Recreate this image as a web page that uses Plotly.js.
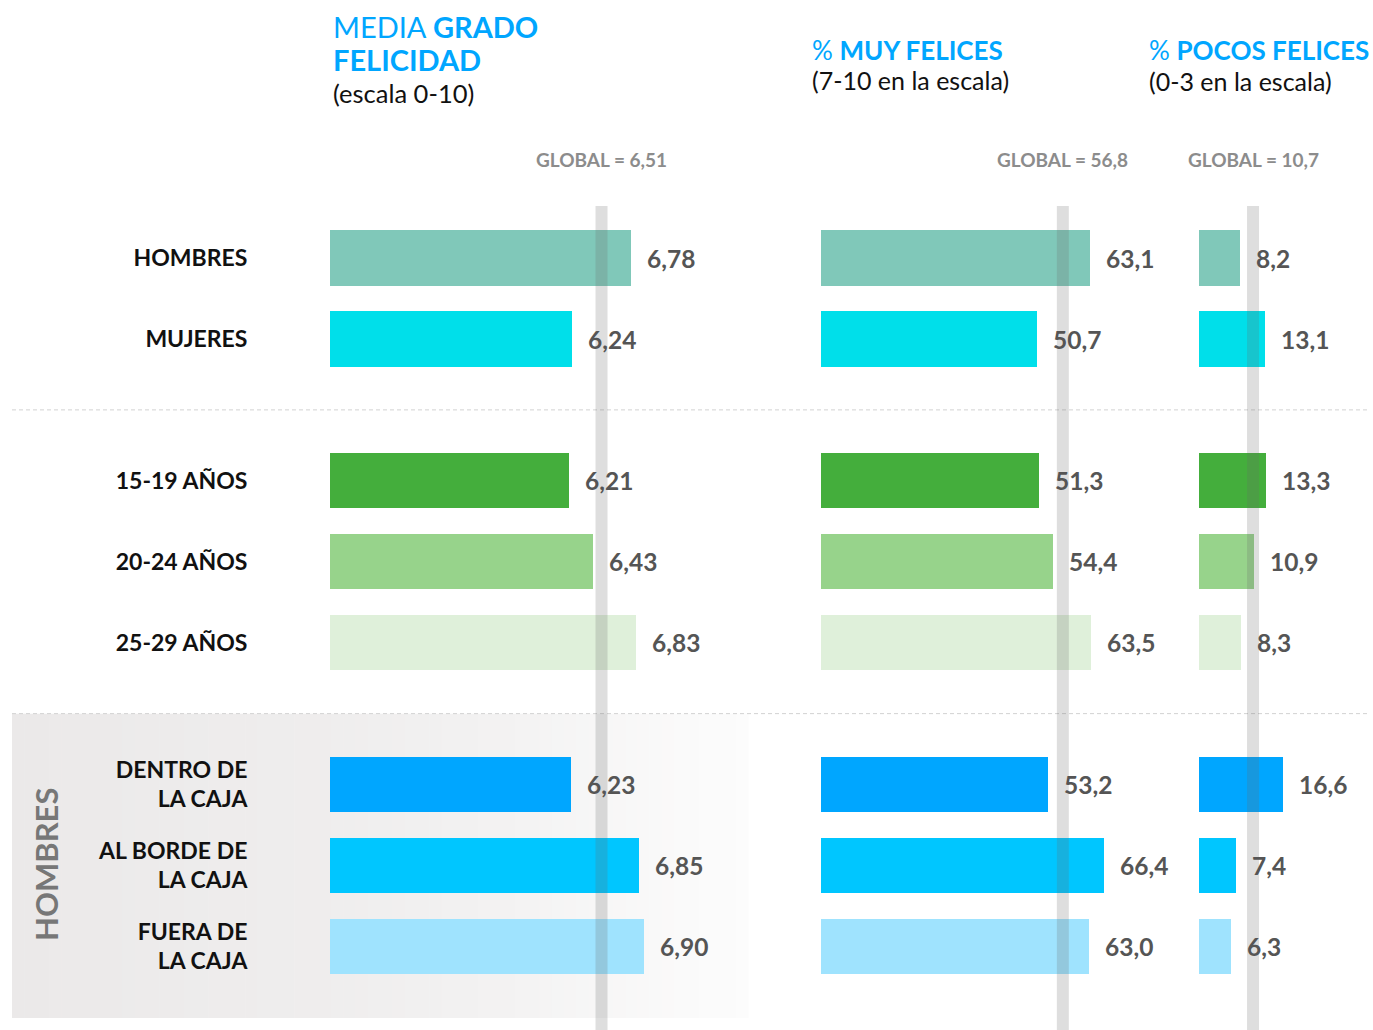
<!DOCTYPE html>
<html>
<head>
<meta charset="utf-8">
<script src="https://cdn.plot.ly/plotly-3.0.1.min.js"></script>
<style>html,body{margin:0;padding:0;background:#fff;}#chart{width:1373px;height:1030px;}</style>
</head>
<body>
<div id="chart"></div>
<script>
// ---- data ----
var categories = ['HOMBRES', 'MUJERES', '15-19 AÑOS', '20-24 AÑOS', '25-29 AÑOS',
  'DENTRO DE<br>LA CAJA', 'AL BORDE DE<br>LA CAJA', 'FUERA DE<br>LA CAJA'];
var groupOf = [0, 0, 1, 1, 1, 2, 2, 2];
var mediaFelicidad = [6.78, 6.24, 6.21, 6.43, 6.83, 6.23, 6.85, 6.90];
var muyFelices = [63.1, 50.7, 51.3, 54.4, 63.5, 53.2, 66.4, 63.0];
var pocosFelices = [8.2, 13.1, 13.3, 10.9, 8.3, 16.6, 7.4, 6.3];
var globalValues = [6.51, 56.8, 10.7];
var globalLabels = ['GLOBAL = 6,51', 'GLOBAL = 56,8', 'GLOBAL = 10,7'];
var barColors = ['#80c8b9', '#00dfea', '#44ae3c', '#97d38b', '#dff0da', '#00a6ff', '#00c6ff', '#9fe3fe'];
var sideLabel = 'HOMBRES';

// ---- layout helpers ----
var W = 1373, H = 1030;
var GAP = 0.75;               // extra space between groups (in row units)
var ROW_PX = 81, FIRST_PX = 258;
var yPos = categories.map(function (c, i) { return i + groupOf[i] * GAP; });
var yTop = -FIRST_PX / ROW_PX, yBottom = (H - FIRST_PX) / ROW_PX;
function pyToY(p) { return (p - FIRST_PX) / ROW_PX; }
function px(x) { return x / W; }
function pyPaper(y) { return 1 - y / H; }

var fmt2 = function (v) { return v.toFixed(2).replace('.', ','); };
var fmt1 = function (v) { return v.toFixed(1).replace('.', ','); };

var FONT = 'Lato, "Open Sans", sans-serif';
var BLUE = '#00a6ff';

function barTrace(vals, xa) {
  return {
    type: 'bar', orientation: 'h', x: vals, y: yPos, xaxis: xa, yaxis: 'y',
    width: 0.68, marker: { color: barColors, line: { width: 0 } },
    hoverinfo: 'skip', showlegend: false
  };
}

var data = [
  barTrace(mediaFelicidad, 'x'),
  barTrace(muyFelices, 'x2'),
  barTrace(pocosFelices, 'x3')
];

var annotations = [];
var panels = [
  { vals: mediaFelicidad, ref: 'x', fmt: fmt2 },
  { vals: muyFelices, ref: 'x2', fmt: fmt1 },
  { vals: pocosFelices, ref: 'x3', fmt: fmt1 }
];
panels.forEach(function (p, k) {
  p.vals.forEach(function (v, i) {
    annotations.push({
      x: v, y: yPos[i], xref: p.ref, yref: 'y', xanchor: 'left', yanchor: 'middle',
      xshift: 14, showarrow: false, text: p.fmt(v),
      font: { family: FONT, size: 24.5, color: '#555555', weight: 'bold' }
    });
  });
  annotations.push({
    x: globalValues[k], xref: p.ref, y: pyPaper(160), yref: 'paper',
    xanchor: 'center', yanchor: 'middle', showarrow: false, text: globalLabels[k],
    font: { family: FONT, size: 19, color: '#8c8c8c', weight: 'bold' }
  });
});

// headers
function header(text, x, y, size, color) {
  annotations.push({
    x: px(x), y: pyPaper(y), xref: 'paper', yref: 'paper', xanchor: 'left', yanchor: 'middle',
    align: 'left', showarrow: false, text: text, font: { family: FONT, size: size, color: color }
  });
}
header('MEDIA <b>GRADO</b>', 331, 26, 29, BLUE);
header('<b>FELICIDAD</b>', 331, 59, 29, BLUE);
header('(escala 0-10)', 331, 93, 25.5, '#111111');
header('% <b>MUY FELICES</b>', 810, 50, 26, BLUE);
header('(7-10 en la escala)', 810, 80, 25, '#111111');
header('% <b>POCOS FELICES</b>', 1147, 50, 26, BLUE);
header('(0-3 en la escala)', 1147, 81, 25, '#111111');

// side label
annotations.push({
  x: px(46), y: pyPaper(864), xref: 'paper', yref: 'paper', xanchor: 'center', yanchor: 'middle',
  textangle: -90, showarrow: false, text: sideLabel,
  font: { family: FONT, size: 31, color: '#777777', weight: 'bold' }
});

// shapes
var shapes = [];
// shaded box with a gentle fade to the right (piecewise gradient)
var boxY0 = (yPos[4] + yPos[5]) / 2, boxY1 = pyToY(1018);
var gradStops = [[12, 235], [330, 239], [500, 243], [620, 248], [748, 252]];
function shadeAt(x) {
  for (var j = 0; j < gradStops.length - 1; j++) {
    var a = gradStops[j], b = gradStops[j + 1];
    if (x <= b[0]) return a[1] + (b[1] - a[1]) * (x - a[0]) / (b[0] - a[0]);
  }
  return gradStops[gradStops.length - 1][1];
}
var steps = 60, gx0 = 12, gx1 = 748;
for (var s = 0; s < steps; s++) {
  var xa = gx0 + (gx1 - gx0) * s / steps, xb = gx0 + (gx1 - gx0) * (s + 1) / steps;
  var v = shadeAt((xa + xb) / 2);
  var r = Math.round(v), g = Math.round(v - 2 * (1 - (v - 235) / 17));
  shapes.push({ type: 'rect', layer: 'below', xref: 'paper', yref: 'y',
    x0: px(xa), x1: px(xb + 0.6), y0: boxY0, y1: boxY1, line: { width: 0 },
    fillcolor: 'rgb(' + r + ',' + g + ',' + g + ')' });
}
// dashed separators between groups
[(yPos[1] + yPos[2]) / 2, (yPos[4] + yPos[5]) / 2].forEach(function (yy) {
  shapes.push({ type: 'line', layer: 'below', xref: 'paper', yref: 'y', x0: px(12), x1: px(1368),
    y0: yy, y1: yy, line: { color: '#d2d2d2', width: 1, dash: '4px,3px' } });
});
// global reference lines
['x', 'x2', 'x3'].forEach(function (ref, k) {
  shapes.push({ type: 'line', layer: 'above', xref: ref, yref: 'y', x0: globalValues[k], x1: globalValues[k],
    y0: pyToY(206), y1: yBottom, line: { color: 'rgba(105,105,105,0.22)', width: 12 } });
});

var hiddenX = { visible: false, showgrid: false, zeroline: false, fixedrange: true };
var layout = {
  width: W, height: H,
  margin: { l: 0, r: 0, t: 0, b: 0 },
  paper_bgcolor: '#ffffff', plot_bgcolor: 'rgba(0,0,0,0)',
  showlegend: false, bargap: 0,
  font: { family: FONT },
  xaxis: Object.assign({ domain: [px(330), px(800)], range: [4.02, 8.33], anchor: 'y' }, hiddenX),
  xaxis2: Object.assign({ domain: [px(821), px(1162)], range: [0, 342 / 4.27], anchor: 'y' }, hiddenX),
  xaxis3: Object.assign({ domain: [px(1199), px(1366)], range: [0, 167 / 5.05], anchor: 'y' }, hiddenX),
  yaxis: {
    domain: [0, 1], range: [yBottom, yTop], anchor: 'x', automargin: false,
    tickmode: 'array', tickvals: yPos, ticktext: categories,
    ticks: 'outside', ticklen: 77, tickcolor: 'rgba(0,0,0,0)',
    tickfont: { family: FONT, size: 23, color: '#111111', weight: 'bold' },
    showgrid: false, zeroline: false, showline: false, fixedrange: true
  },
  shapes: shapes,
  annotations: annotations
};

Plotly.newPlot('chart', data, layout, { displayModeBar: false, staticPlot: true });
</script>
</body>
</html>
